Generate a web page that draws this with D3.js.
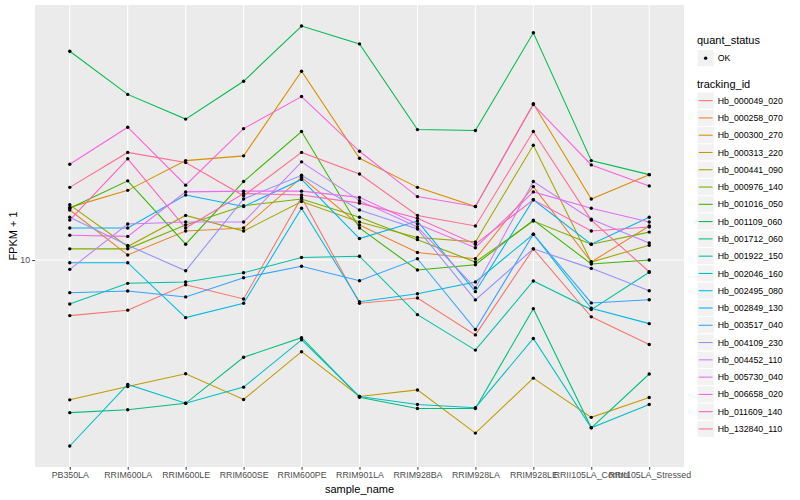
<!DOCTYPE html>
<html>
<head>
<meta charset="utf-8">
<script src="https://cdn.jsdelivr.net/npm/d3@7"></script>
<style>
	body { margin: 0; background: #fff; }
	svg { font-family: 'Liberation Sans', Arial, Helvetica, sans-serif; }
</style>
</head>
<body>
<svg id="chart" width="800" height="500"></svg>
<script>
const samples = ['PB350LA', 'RRIM600LA', 'RRIM600LE', 'RRIM600SE', 'RRIM600PE', 'RRIM901LA', 'RRIM928BA', 'RRIM928LA', 'RRIM928LE', 'RRII105LA_Control', 'RRII105LA_Stressed']

const trackingIds = ['Hb_000049_020', 'Hb_000258_070', 'Hb_000300_270', 'Hb_000313_220', 'Hb_000441_090', 'Hb_000976_140', 'Hb_001016_050', 'Hb_001109_060', 'Hb_001712_060', 'Hb_001922_150', 'Hb_002046_160', 'Hb_002495_080', 'Hb_002849_130', 'Hb_003517_040', 'Hb_004109_230', 'Hb_004452_110', 'Hb_005730_040', 'Hb_006658_020', 'Hb_011609_140', 'Hb_132840_110']

// FPKM + 1, one array per gene, in sample order
const hb000049_020 = [6.52, 6.80, 8.27, 7.41, 16.2, 7.17, 7.47, 5.62, 10.9, 6.46, 5.22]
const hb000258_070 = [14.7, 10.4, 12.5, 12.8, 18.9, 13.1, 10.6, 10.1, 17.6, 9.85, 13.0]
const hb000300_270 = [15.0, 17.1, 21.5, 22.3, 42.8, 21.9, 17.5, 15.1, 33.3, 16.0, 19.3]
const hb000313_220 = [3.41, 3.78, 4.17, 3.42, 4.94, 3.50, 3.68, 2.64, 4.03, 2.98, 3.47]
const hb000441_090 = [15.3, 11.1, 14.1, 12.5, 15.7, 13.4, 11.9, 11.5, 24.2, 9.85, 11.2]
const hb000976_140 = [10.9, 10.9, 13.1, 15.2, 16.0, 13.9, 11.7, 9.85, 13.5, 11.3, 12.4]
const hb001016_050 = [14.9, 18.4, 11.3, 18.3, 26.9, 12.8, 9.26, 9.65, 13.6, 9.70, 10.0]
const hb001109_060 = [49.9, 35.8, 29.6, 39.6, 60.6, 52.8, 27.3, 27.1, 57.5, 21.5, 19.3]
const hb001712_060 = [3.09, 3.16, 3.32, 4.73, 5.50, 3.48, 3.19, 3.19, 6.88, 2.75, 4.16]
const hb001922_150 = [7.13, 8.36, 8.45, 9.07, 10.2, 10.3, 6.57, 5.00, 8.51, 6.83, 9.10]
const hb002046_160 = [2.39, 3.84, 3.32, 3.76, 5.41, 3.50, 3.29, 3.21, 5.47, 2.75, 3.29]
const hb002495_080 = [9.80, 9.80, 6.42, 7.17, 14.9, 7.26, 7.72, 8.45, 12.2, 6.90, 6.13]
const hb002849_130 = [12.8, 12.8, 16.5, 15.1, 18.6, 11.8, 13.5, 7.84, 15.9, 11.3, 13.9]
const hb003517_040 = [7.78, 7.88, 7.53, 8.73, 9.53, 8.53, 10.1, 5.86, 12.2, 7.19, 7.37]
const hb004109_230 = [13.9, 11.2, 9.21, 16.0, 19.2, 14.7, 12.7, 7.36, 10.9, 9.38, 7.90]
const hb004452_110 = [9.31, 13.2, 13.4, 13.4, 21.3, 15.8, 12.9, 8.07, 18.3, 13.7, 11.4]
const hb005730_040 = [12.1, 12.0, 16.9, 17.0, 17.0, 16.2, 13.2, 11.0, 16.9, 14.9, 13.4]
const hb006658_020 = [20.9, 27.8, 17.8, 27.5, 35.2, 23.1, 16.3, 15.1, 33.1, 20.8, 17.7]
const hb011609_140 = [13.6, 21.8, 12.8, 16.7, 16.5, 15.5, 13.8, 11.3, 15.9, 12.5, 12.9]
const hb132840_110 = [17.5, 22.9, 21.2, 16.4, 22.9, 19.4, 14.1, 13.0, 26.9, 13.6, 9.14]

const fpkm = [hb000049_020, hb000258_070, hb000300_270, hb000313_220, hb000441_090, hb000976_140, hb001016_050, hb001109_060, hb001712_060, hb001922_150, hb002046_160, hb002495_080, hb002849_130, hb003517_040, hb004109_230, hb004452_110, hb005730_040, hb006658_020, hb011609_140, hb132840_110]

// ggplot default hue palette for 20 levels
const palette = ['#F8766D', '#EA8331', '#D89000', '#C09B00', '#A3A500', '#7CAE00', '#39B600', '#00BB4E', '#00BF7D', '#00C1A3', '#00BFC4', '#00BAE0', '#00B0F6', '#35A2FF', '#9590FF', '#C77CFF', '#E76BF3', '#FA62DB', '#FF62BC', '#FF6C91']

const series = trackingIds.map((id, i) => ({
	id,
	color: palette[i],
	values: fpkm[i].map((v, j) => ({ sample: samples[j], value: v }))
}))

const panel = { left: 35, right: 684, top: 5, bottom: 467 }

const svg = d3.select('#chart')

const x = d3.scalePoint()
	.domain(samples)
	.range([panel.left, panel.right])
	.padding(0.6)

// log scale, expanded by 5% like ggplot
const [lo, hi] = d3.extent(fpkm.flat()).map(Math.log10)
const pad = (hi - lo) * 0.05
const y = d3.scaleLog()
	.domain([10 ** (lo - pad), 10 ** (hi + pad)])
	.range([panel.bottom, panel.top])

svg.append('rect')
	.attr('x', panel.left)
	.attr('y', panel.top)
	.attr('width', panel.right - panel.left)
	.attr('height', panel.bottom - panel.top)
	.attr('fill', '#EBEBEB')

const grid = svg.append('g').attr('stroke', '#fff').attr('stroke-width', 1.07)

grid.selectAll('.vgrid')
	.data(samples)
	.enter()
	.append('line')
	.attr('x1', d => x(d))
	.attr('x2', d => x(d))
	.attr('y1', panel.top)
	.attr('y2', panel.bottom)

grid.selectAll('.hgrid')
	.data([10])
	.enter()
	.append('line')
	.attr('x1', panel.left)
	.attr('x2', panel.right)
	.attr('y1', d => y(d))
	.attr('y2', d => y(d))

const line = d3.line()
	.x(d => x(d.sample))
	.y(d => y(d.value))

svg.append('g')
	.selectAll('path')
	.data(series)
	.enter()
	.append('path')
	.attr('d', d => line(d.values))
	.attr('fill', 'none')
	.attr('stroke', d => d.color)
	.attr('stroke-width', 1.07)

svg.append('g')
	.selectAll('circle')
	.data(series.flatMap(d => d.values))
	.enter()
	.append('circle')
	.attr('cx', d => x(d.sample))
	.attr('cy', d => y(d.value))
	.attr('r', 1.7)
	.attr('fill', '#000')

// axes
const yAxis = svg.append('g')
	.attr('transform', `translate(${panel.left},0)`)
	.call(d3.axisLeft(y).tickValues([10]).tickFormat(d3.format('d')).tickSize(2.75).tickPadding(2.2))
yAxis.select('.domain').remove()
yAxis.selectAll('line').attr('stroke', '#333')
yAxis.selectAll('text').attr('fill', '#4D4D4D').style('font-size', '8.8px').style('font-family', null)

const xAxis = svg.append('g')
	.attr('transform', `translate(0,${panel.bottom})`)
	.call(d3.axisBottom(x).tickSize(2.75).tickPadding(2.2))
xAxis.select('.domain').remove()
xAxis.selectAll('line').attr('stroke', '#333')
xAxis.selectAll('text').attr('fill', '#4D4D4D').style('font-size', '8.8px').style('font-family', null)

svg.append('text')
	.attr('x', (panel.left + panel.right) / 2)
	.attr('y', 493)
	.attr('text-anchor', 'middle')
	.style('font-size', '11px')
	.text('sample_name')

svg.append('text')
	.attr('transform', `translate(17,${(panel.top + panel.bottom) / 2}) rotate(-90)`)
	.attr('text-anchor', 'middle')
	.style('font-size', '11px')
	.text('FPKM + 1')

// legends
const legend = svg.append('g').attr('transform', 'translate(697,0)')
const keySize = 17.28

legend.append('text')
	.attr('x', 0)
	.attr('y', 44)
	.style('font-size', '11px')
	.text('quant_status')

legend.append('rect')
	.attr('x', 0)
	.attr('y', 49.5)
	.attr('width', keySize)
	.attr('height', keySize)
	.attr('fill', '#F2F2F2')
	.attr('stroke', '#fff')

legend.append('circle')
	.attr('cx', keySize / 2)
	.attr('cy', 49.5 + keySize / 2)
	.attr('r', 1.7)
	.attr('fill', '#000')

legend.append('text')
	.attr('x', keySize + 3.5)
	.attr('y', 49.5 + keySize / 2)
	.attr('dy', '0.35em')
	.style('font-size', '8.8px')
	.text('OK')

legend.append('text')
	.attr('x', 0)
	.attr('y', 88)
	.style('font-size', '11px')
	.text('tracking_id')

const keys = legend.selectAll('.key')
	.data(series)
	.enter()
	.append('g')
	.attr('class', 'key')
	.attr('transform', (d, i) => `translate(0,${92 + i * keySize})`)

keys.append('rect')
	.attr('width', keySize)
	.attr('height', keySize)
	.attr('fill', '#F2F2F2')
	.attr('stroke', '#fff')

keys.append('line')
	.attr('x1', 1.7)
	.attr('x2', keySize - 1.7)
	.attr('y1', keySize / 2)
	.attr('y2', keySize / 2)
	.attr('stroke', d => d.color)
	.attr('stroke-width', 1.07)

keys.append('text')
	.attr('x', keySize + 3.5)
	.attr('y', keySize / 2)
	.attr('dy', '0.35em')
	.style('font-size', '8.8px')
	.text(d => d.id)
</script>
</body>
</html>
